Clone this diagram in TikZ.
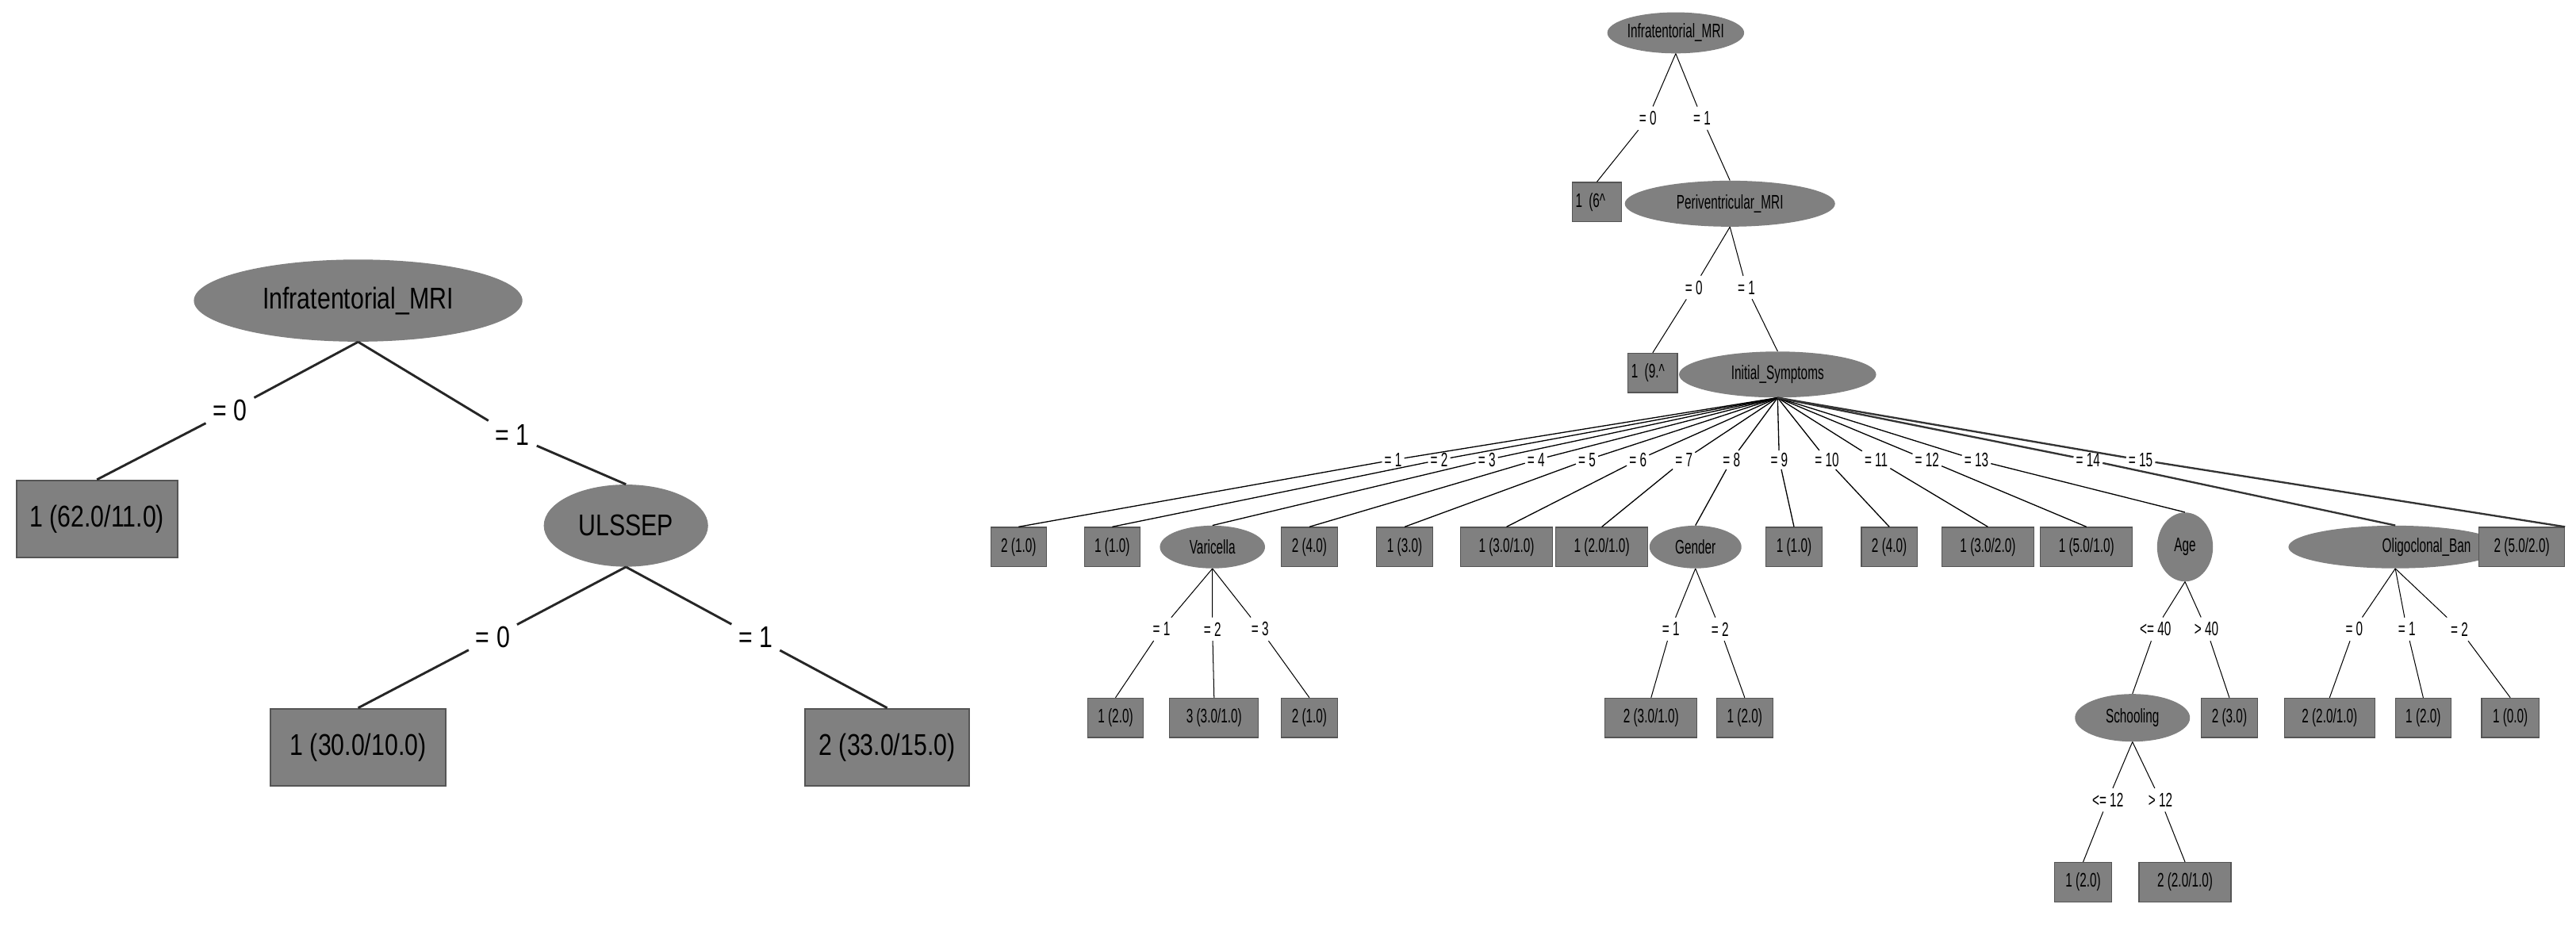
\documentclass[tikz,border=0pt]{standalone}
\usepackage{fontspec}
\newfontfamily\nar[FakeStretch=0.62]{Liberation Sans}
\newfontfamily\narL[FakeStretch=0.8]{Liberation Sans}
\usetikzlibrary{shapes.geometric}
\definecolor{nodegray}{HTML}{808080}
\definecolor{edgegray}{HTML}{555555}
\begin{document}
\begin{tikzpicture}[x=0.05cm,y=-0.05cm,
  sbox/.style={rectangle,fill=nodegray,draw=edgegray,line width=0.8pt,minimum height=1.2cm,inner sep=1pt,font=\nar\fontsize{17}{17}\selectfont},
  sell/.style={ellipse,fill=nodegray,minimum height=1.3cm,inner sep=0pt,font=\nar\fontsize{17}{17}\selectfont},
  slab/.style={inner sep=4pt,font=\nar\fontsize{17}{17}\selectfont},
  lbox/.style={rectangle,fill=nodegray,draw=edgegray,line width=1.5pt,minimum height=2.35cm,inner sep=1pt,font=\narL\fontsize{26}{26}\selectfont},
  lell/.style={ellipse,fill=nodegray,minimum height=2.5cm,inner sep=0pt,font=\narL\fontsize{26}{26}\selectfont},
  llab/.style={inner sep=6pt,font=\narL\fontsize{26}{26}\selectfont},
  ledge/.style={line width=2pt,draw=black!85},
  sedge/.style={line width=0.7pt},
  dedge/.style={line width=1.6pt,draw=black!80}]
\useasboundingbox (0,0) rectangle (1568,564);
% ---------- left tree
\node[lell,minimum width=10cm] (L0) at (218,183) {Infratentorial\_MRI};
\node[lbox,minimum width=4.9cm] (L1) at (59,316) {1 (62.0/11.0)};
\node[lell,minimum width=5cm] (L2) at (381,320) {ULSSEP};
\node[lbox,minimum width=5.35cm] (L3) at (218,455) {1 (30.0/10.0)};
\node[lbox,minimum width=5cm] (L4) at (540,455) {2 (33.0/15.0)};
\node[llab] (la) at (140,250) {= 0};
\node[llab] (lb) at (312,265) {= 1};
\node[llab] (lc) at (300,388) {= 0};
\node[llab] (ld) at (460,388) {= 1};
\draw[ledge] (L0.south) -- (la) -- (L1.north);
\draw[ledge] (L0.south) -- (lb) -- (L2.north);
\draw[ledge] (L2.south) -- (lc) -- (L3.north);
\draw[ledge] (L2.south) -- (ld) -- (L4.north);
% ---------- right tree
\node[sell,minimum width=3.7cm,minimum height=1.25cm] (R0) at (1020,20) {Infratentorial\_MRI};
\node[sbox,minimum width=1.5cm,text width=1.3cm,align=left] (R1) at (972,123) {1 (6\textasciicircum};
\node[sell,minimum width=6.4cm,minimum height=1.4cm] (R2) at (1053,124) {Periventricular\_MRI};
\node[sbox,minimum width=1.5cm,text width=1.3cm,align=left] (R3) at (1006,227) {1 (9.\textasciicircum};
\node[sell,minimum width=6cm,minimum height=1.4cm] (R4) at (1082,228) {Initial\_Symptoms};
\node[slab] (ra) at (1003,72) {= 0};
\node[slab] (rb) at (1036,72) {= 1};
\node[slab] (rc) at (1031,175) {= 0};
\node[slab] (rd) at (1063,175) {= 1};
\draw[sedge] (R0.south) -- (ra) -- (R1.north);
\draw[sedge] (R0.south) -- (rb) -- (R2.north);
\draw[sedge] (R2.south) -- (rc) -- (R3.north);
\draw[sedge] (R2.south) -- (rd) -- (R4.north);
% level 2
\node[sbox,minimum width=1.7cm] (c1) at (620,333) {2 (1.0)};
\node[sbox,minimum width=1.7cm] (c2) at (677,333) {1 (1.0)};
\node[sell,minimum width=3.2cm] (c3) at (738,333) {Varicella};
\node[sbox,minimum width=1.7cm] (c4) at (797,333) {2 (4.0)};
\node[sbox,minimum width=1.7cm] (c5) at (855,333) {1 (3.0)};
\node[sbox,minimum width=2.8cm] (c6) at (917,333) {1 (3.0/1.0)};
\node[sbox,minimum width=2.8cm] (c7) at (975,333) {1 (2.0/1.0)};
\node[sell,minimum width=2.8cm] (c8) at (1032,333) {Gender};
\node[sbox,minimum width=1.7cm] (c9) at (1092,333) {1 (1.0)};
\node[sbox,minimum width=1.7cm] (c10) at (1150,333) {2 (4.0)};
\node[sbox,minimum width=2.8cm] (c11) at (1210,333) {1 (3.0/2.0)};
\node[sbox,minimum width=2.8cm] (c12) at (1270,333) {1 (5.0/1.0)};
\node[sell,minimum width=1.7cm,minimum height=2.1cm] (c13) at (1330,333) {Age};
\node[sell,minimum width=5.8cm,text width=4.6cm,align=right] (c14) at (1458,333) {Oligoclonal\_Ban};
\node[sbox,minimum width=2.6cm] (c15) at (1535,333) {2 (5.0/2.0)};
\foreach \i/\x/\t in {1/848/= 1,2/876/= 2,3/905/= 3,4/935/= 4,5/966/= 5,6/997/= 6,7/1025/= 7,8/1054/= 8,9/1083/= 9,10/1112/= 10,11/1142/= 11,12/1173/= 12,13/1203/= 13}{
  \node[slab,inner sep=2pt] (e\i) at (\x,280) {\t};
  \draw[sedge,line width=0.9pt] (R4.south) -- (e\i) -- (c\i.north);
}
\node[slab,inner sep=2pt] (e14) at (1271,280) {= 14};
\node[slab,inner sep=2pt] (e15) at (1303,280) {= 15};
\draw[dedge] (R4.south) -- (e14) -- (c14.north);
\draw[dedge] (R4.south) -- (e15) -- (c15.north east);
% Varicella
\node[sbox,minimum width=1.7cm] (v1) at (679,437) {1 (2.0)};
\node[sbox,minimum width=2.7cm] (v2) at (739,437) {3 (3.0/1.0)};
\node[sbox,minimum width=1.7cm] (v3) at (797,437) {2 (1.0)};
\node[slab] (va) at (707,383) {= 1};
\node[slab] (vb) at (738,383) {= 2};
\node[slab] (vc) at (767,383) {= 3};
\draw[sedge] (c3.south) -- (va) -- (v1.north);
\draw[sedge] (c3.south) -- (vb) -- (v2.north);
\draw[sedge] (c3.south) -- (vc) -- (v3.north);
% Gender
\node[sbox,minimum width=2.8cm] (g1) at (1005,437) {2 (3.0/1.0)};
\node[sbox,minimum width=1.7cm] (g2) at (1062,437) {1 (2.0)};
\node[slab] (ga) at (1017,383) {= 1};
\node[slab] (gb) at (1047,383) {= 2};
\draw[sedge] (c8.south) -- (ga) -- (g1.north);
\draw[sedge] (c8.south) -- (gb) -- (g2.north);
% Age
\node[sell,minimum width=3.5cm,minimum height=1.45cm] (a1) at (1298,437) {Schooling};
\node[sbox,minimum width=1.7cm] (a2) at (1357,437) {2 (3.0)};
\node[slab] (aa) at (1312,383) {<= 40};
\node[slab] (ab) at (1343,383) {> 40};
\draw[sedge] (c13.south) -- (aa) -- (a1.north);
\draw[sedge] (c13.south) -- (ab) -- (a2.north);
% Schooling
\node[sbox,minimum width=1.75cm] (s1) at (1268,537) {1 (2.0)};
\node[sbox,minimum width=2.8cm] (s2) at (1330,537) {2 (2.0/1.0)};
\node[slab] (sa) at (1283,487) {<= 12};
\node[slab] (sb) at (1315,487) {> 12};
\draw[sedge] (a1.south) -- (sa) -- (s1.north);
\draw[sedge] (a1.south) -- (sb) -- (s2.north);
% Oligoclonal
\node[sbox,minimum width=2.75cm] (o1) at (1418,437) {2 (2.0/1.0)};
\node[sbox,minimum width=1.7cm] (o2) at (1475,437) {1 (2.0)};
\node[sbox,minimum width=1.75cm] (o3) at (1528,437) {1 (0.0)};
\node[slab] (oa) at (1433,383) {= 0};
\node[slab] (ob) at (1465,383) {= 1};
\node[slab] (oc) at (1497,383) {= 2};
\draw[sedge] (c14.south) -- (oa) -- (o1.north);
\draw[sedge] (c14.south) -- (ob) -- (o2.north);
\draw[sedge] (c14.south) -- (oc) -- (o3.north);
\end{tikzpicture}
\end{document}
